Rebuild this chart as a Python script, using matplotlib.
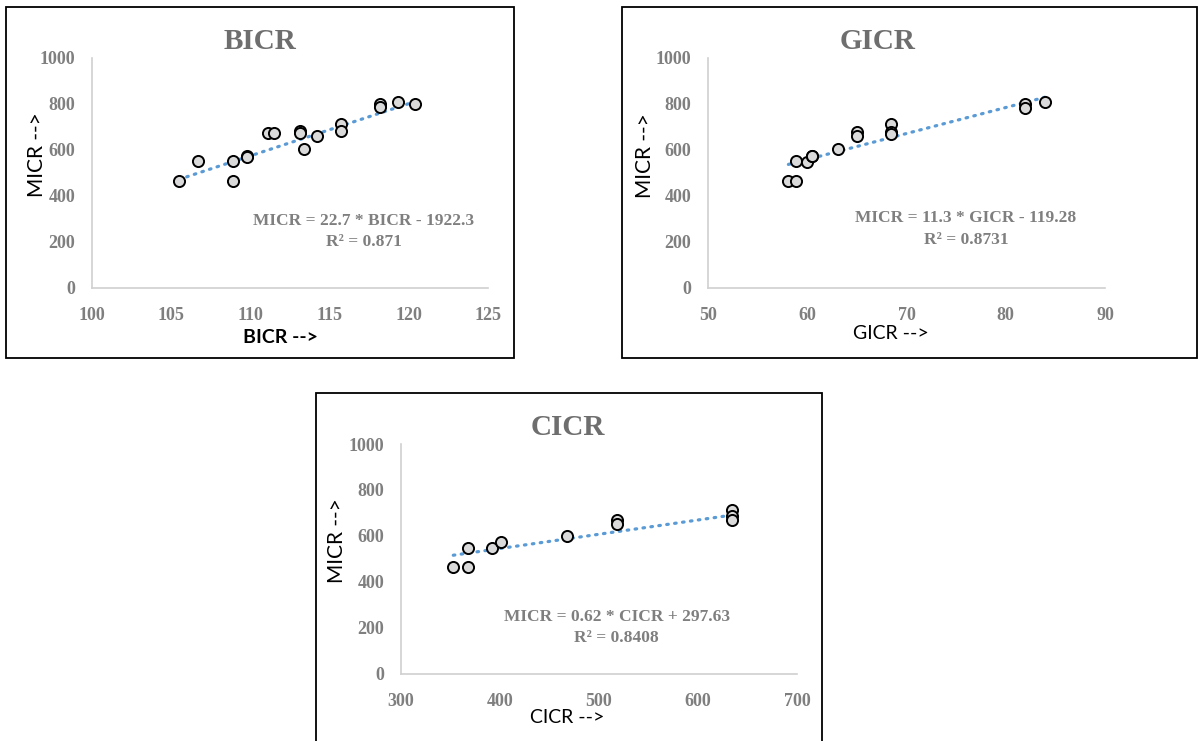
import matplotlib
matplotlib.use("Agg")
import matplotlib.pyplot as plt
from matplotlib.patches import Rectangle
import numpy as np

# MICR vs BICR
bicr = [105.5, 106.7, 108.9, 108.9, 109.8, 109.8, 111.1, 111.5, 113.1, 113.1, 113.4, 114.2,
        115.7, 115.7, 118.2, 118.2, 119.3, 120.4]
micr_b = [464, 552, 552, 465, 575, 570, 675, 675, 681, 674, 603, 662,
          713, 681, 800, 785, 807, 799]

# MICR vs GICR
gicr = [58.1, 58.9, 58.9, 60.0, 60.5, 60.5, 63.1, 65.0, 65.0, 68.4, 68.4, 68.4, 81.9, 81.9, 84.0]
micr_g = [465, 465, 552, 549, 572, 576, 604, 678, 662, 713, 678, 671, 801, 783, 807]

# MICR vs CICR
cicr = [352.8, 367.3, 367.3, 392.2, 401.3, 467.2, 518.0, 518.0, 634.4, 634.4, 634.4]
micr_c = [467, 467, 547, 547, 576, 598, 670, 654, 713, 689, 669]

# trendline coefficients (slope, intercept) and labels
fits = [(22.7, -1922.3), (11.3, -119.28), (0.62, 297.63)]
eq_texts = ["MICR = 22.7 * BICR - 1922.3\nR² = 0.871",
            "MICR = 11.3 * GICR - 119.28\nR² = 0.8731",
            "MICR = 0.62 * CICR + 297.63\nR² = 0.8408"]
titles = ["BICR", "GICR", "CICR"]
xlabels = ["BICR -->", "GICR -->", "CICR -->"]
x_ticks = [[100, 105, 110, 115, 120, 125], [50, 60, 70, 80, 90], [300, 400, 500, 600, 700]]
y_ticks = [0, 200, 400, 600, 800, 1000]

W, H = 1198, 741
fig = plt.figure(figsize=(W / 100, H / 100), dpi=100)

# panel frames (pixels: x0, y0_top, x1, y1_bottom)
frames = [(6, 7, 514, 358), (622, 7, 1197, 358), (316, 393, 822, 745)]
for x0, y0, x1, y1 in frames:
    fig.patches.append(Rectangle((x0 / W, 1 - y1 / H), (x1 - x0) / W, (y1 - y0) / H,
                                 transform=fig.transFigure, fill=False,
                                 edgecolor='black', linewidth=1.3, clip_on=False))

# axes rectangles in pixels (left, top, right, bottom)
boxes = [(92, 58, 488, 288), (708, 58, 1105, 288), (401, 444, 797, 674)]
eq_pos = [(0.687, 0.245), (0.65, 0.257), (0.545, 0.203)]
title_pos = [0.424, 0.426, 0.42]
xlab_pos = [(0.477, -0.217), (0.461, -0.197), (0.42, -0.187)]
ylab_pos = [(-0.139, 0.578), (-0.159, 0.574), (-0.162, 0.578)]
data = [(bicr, micr_b), (gicr, micr_g), (cicr, micr_c)]

grey = '#7f7f7f'
serif = ['Liberation Serif', 'DejaVu Serif']
sans = ['Lato', 'DejaVu Sans']

for i, (l, t, r, b) in enumerate(boxes):
    ax = fig.add_axes([l / W, 1 - b / H, (r - l) / W, (b - t) / H])
    x, y = data[i]
    ax.scatter(x, y, s=64, facecolor='#dadada', edgecolor='black', linewidth=1.4, zorder=3)

    m, c = fits[i]
    xs = np.array([min(x), max(x)])
    ax.plot(xs, m * xs + c, color='#5b9bd5', linewidth=2.3,
            linestyle=(0, (0.5, 2.0)), dash_capstyle='round', zorder=2)

    ax.set_xlim(x_ticks[i][0], x_ticks[i][-1])
    ax.set_ylim(0, 1000)
    ax.set_xticks(x_ticks[i])
    ax.set_yticks(y_ticks)
    ax.tick_params(length=0, labelsize=13, labelcolor=grey)
    ax.tick_params(axis='x', pad=14)
    ax.tick_params(axis='y', pad=12)
    for lab in ax.get_xticklabels() + ax.get_yticklabels():
        lab.set_family(serif)
        lab.set_fontweight('bold')

    for side in ['top', 'right']:
        ax.spines[side].set_visible(False)
    for side in ['left', 'bottom']:
        ax.spines[side].set_color('#d0d0d0')
        ax.spines[side].set_linewidth(1.2)

    ax.text(title_pos[i], 1.07, titles[i], transform=ax.transAxes, ha='center', va='center',
            fontsize=21, fontweight='bold', color='#6e6e6e', family=serif)
    ax.text(eq_pos[i][0], eq_pos[i][1], eq_texts[i], transform=ax.transAxes,
            ha='center', va='center', fontsize=12.5, fontweight='bold', color=grey,
            family=serif, linespacing=1.45)

    ax.set_xlabel(xlabels[i], fontsize=14, family=sans, color='black',
                  fontweight='bold' if i == 0 else 'normal')
    ax.xaxis.set_label_coords(*xlab_pos[i])
    ax.set_ylabel("MICR -->", fontsize=15, family=sans, color='black')
    ax.yaxis.set_label_coords(*ylab_pos[i])
    ax.xaxis.label.set_va('center')
    ax.yaxis.label.set_va('center')

fig.savefig("out.png", dpi=100)
